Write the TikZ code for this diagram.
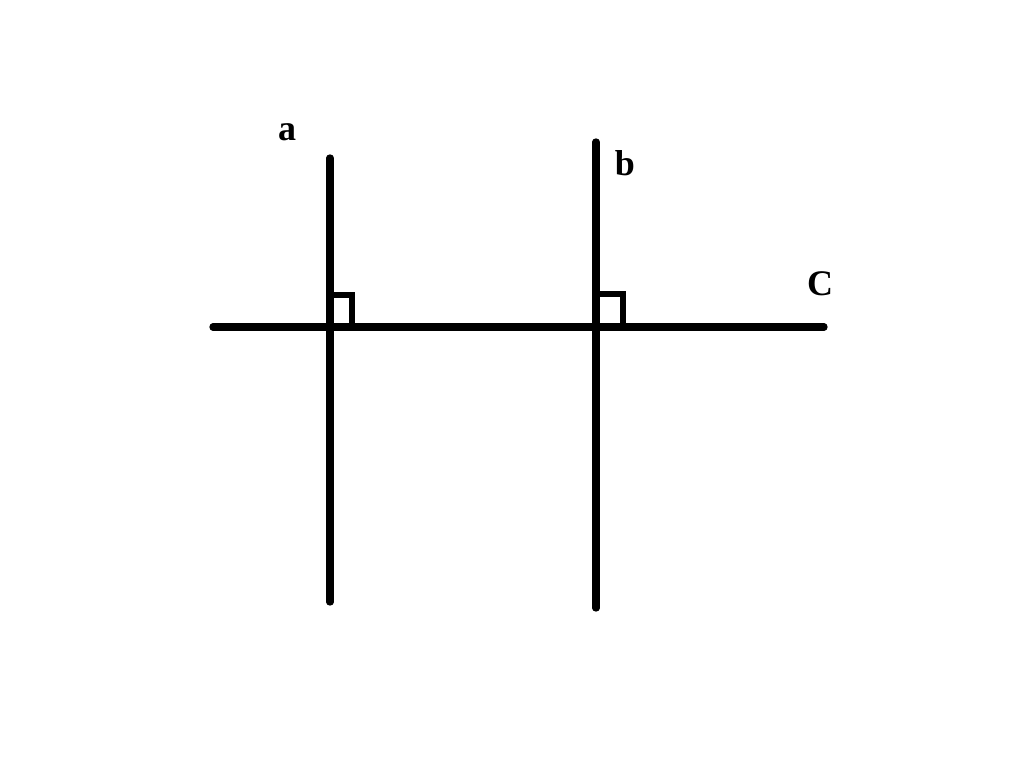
\documentclass[tikz,border=0pt]{standalone}
\usepackage{fontspec}
\setmainfont{Liberation Serif}
\begin{document}
\begin{tikzpicture}[x=0.75pt,y=-0.75pt,
  ln/.style={line width=5.5pt,line cap=round},
  ra/.style={line width=4.5pt,line join=miter},
  lbl/.style={font=\fontsize{27}{30}\selectfont\bfseries,inner sep=0pt}]
\useasboundingbox[fill=white] (0,0) rectangle (1024,758);
\coordinate (aT) at (330,158);
\coordinate (aB) at (330,602);
\coordinate (bT) at (596,142);
\coordinate (bB) at (596,608);
\coordinate (cL) at (213,327);
\coordinate (cR) at (824,327);
\draw[ln] (aT) -- (aB);
\draw[ln] (bT) -- (bB);
\draw[ln] (cL) -- (cR);
\coordinate (ra1) at (330,295);
\coordinate (ra2) at (352,295);
\coordinate (ra3) at (352,331);
\coordinate (rb1) at (596,294);
\coordinate (rb2) at (623,294);
\coordinate (rb3) at (623,327);
\draw[ra] (ra1) -- (ra2) -- (ra3);
\draw[ra] (rb1) -- (rb2) -- (rb3);
\node[lbl] (la) at (287,132) {a};
\node[lbl] (lb) at (625,163) {b};
\node[lbl] (lc) at (820,284) {C};
\end{tikzpicture}
\end{document}
